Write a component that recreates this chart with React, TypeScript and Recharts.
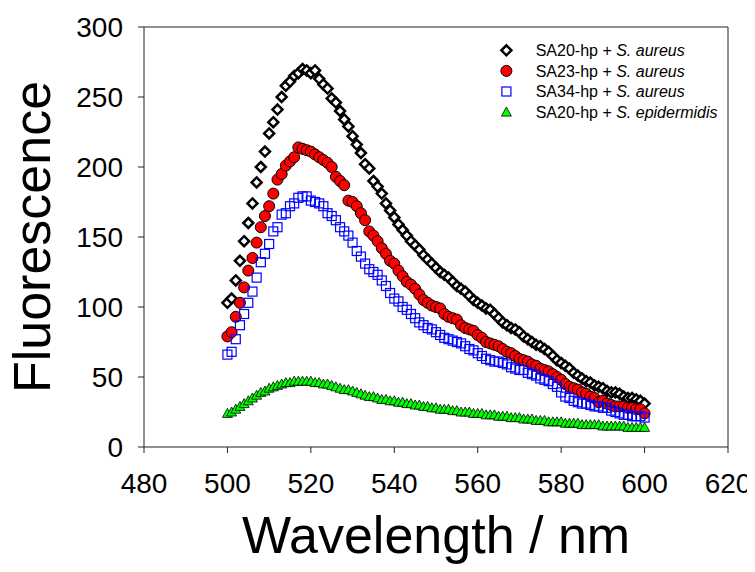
import React from "react";
import {
  ScatterChart,
  Scatter,
  XAxis,
  YAxis,
  ReferenceLine,
} from "recharts";

// wavelength grid, 1 nm steps
const wavelengths = Array.from({ length: 101 }, (_, i) => 500 + i);

const sa20Aureus = [
  103, 106, 119, 133, 147, 160, 174, 189, 200, 211,
  224, 232, 241, 250, 258, 261, 265, 267, 270, 269,
  267, 269, 263, 259, 256, 249, 246, 240, 234, 229,
  222, 216, 210, 202, 199, 190, 186, 181, 174, 169,
  164, 159, 155, 151, 147, 144, 141, 137, 134, 131,
  128, 125, 123, 121, 118, 115, 113, 111, 108, 105,
  103, 101, 99, 98, 95, 92, 89, 87, 85, 84,
  82, 79, 77, 75, 73, 72, 70, 68, 65, 62,
  60, 58, 56, 53, 51, 49, 47, 46, 44, 43,
  42, 40, 39, 39, 38, 36, 35, 35, 34, 33,
  31,
];

const sa23Aureus = [
  79, 82, 93, 103, 114, 126, 135, 146, 157, 165,
  172, 181, 191, 195, 201, 204, 207, 214, 213, 212,
  211, 209, 207, 205, 203, 200, 193, 190, 187, 176,
  175, 172, 167, 162, 154, 151, 147, 142, 138, 133,
  131, 126, 122, 118, 116, 113, 109, 105, 103, 101,
  100, 99, 95, 93, 92, 91, 87, 85, 84, 83,
  80, 78, 75, 74, 73, 72, 70, 68, 67, 65,
  63, 62, 61, 59, 58, 56, 55, 54, 52, 50,
  48, 45, 43, 42, 41, 39, 38, 36, 35, 32,
  33, 31, 30, 29, 29, 29, 28, 28, 27, 27,
  24,
];

const sa34Aureus = [
  66, 68, 77, 87, 95, 103, 111, 121, 132, 138,
  145, 154, 157, 166, 167, 172, 174, 178, 179, 179,
  176, 175, 174, 172, 167, 165, 162, 157, 154, 151,
  146, 140, 136, 131, 127, 125, 123, 119, 115, 110,
  106, 104, 100, 98, 95, 92, 89, 87, 85, 84,
  82, 80, 78, 77, 76, 75, 74, 72, 70, 69,
  67, 65, 63, 62, 61, 61, 60, 59, 57, 56,
  55, 55, 53, 52, 51, 49, 48, 47, 45, 43,
  39, 36, 35, 33, 32, 31, 31, 30, 29, 29,
  28, 28, 26, 25, 24, 23, 23, 22, 22, 22,
  21,
];

const sa20Epidermidis = [
  24, 25, 27, 29, 31, 33, 35, 37, 39, 40,
  42, 43, 44, 45, 46, 46, 47, 47, 47, 47,
  47, 46, 46, 45, 45, 44, 43, 42, 41, 41,
  40, 39, 38, 37, 36, 36, 35, 34, 34, 33,
  33, 32, 32, 31, 31, 30, 30, 29, 29, 28,
  28, 27, 27, 27, 26, 26, 25, 25, 25, 24,
  24, 24, 23, 23, 23, 22, 22, 22, 21, 21,
  21, 20, 20, 20, 19, 19, 19, 18, 18, 18,
  18, 17, 17, 17, 17, 16, 16, 16, 16, 16,
  15, 15, 15, 15, 15, 15, 14, 14, 14, 14,
  14,
];

const xTicks = [480, 500, 520, 540, 560, 580, 600, 620];
const yTicks = [0, 50, 100, 150, 200, 250, 300];

const toPoints = (vals: number[]) =>
  wavelengths.map((w, i) => ({ x: w, y: vals[i] }));

const FONT = "'Liberation Sans', Arial, Helvetica, sans-serif";

const Diamond = ({ cx, cy }: any) => (
  <polygon
    points={`${cx},${cy - 5} ${cx + 5},${cy} ${cx},${cy + 5} ${cx - 5},${cy}`}
    fill="#fff"
    stroke="#000"
    strokeWidth={2.5}
  />
);

const Circle = ({ cx, cy }: any) => (
  <circle cx={cx} cy={cy} r={5.5} fill="#ff0000" stroke="#000" strokeWidth={1} />
);

const Square = ({ cx, cy }: any) => (
  <rect x={cx - 4.5} y={cy - 4.5} width={9} height={9} fill="none" stroke="#0000ff" strokeWidth={1.2} />
);

const Triangle = ({ cx, cy }: any) => (
  <polygon
    points={`${cx},${cy - 5} ${cx + 5},${cy + 4} ${cx - 5},${cy + 4}`}
    fill="#00ff00"
    stroke="#000"
    strokeWidth={0.8}
  />
);

const legendRows = [
  { name: "SA20-hp + ", species: "S. aureus", Shape: Diamond },
  { name: "SA23-hp + ", species: "S. aureus", Shape: Circle },
  { name: "SA34-hp + ", species: "S. aureus", Shape: Square },
  { name: "SA20-hp + ", species: "S. epidermidis", Shape: Triangle },
];

export default function App() {
  const W = 747;
  const H = 556;
  // overlay is shifted 8px left so it starts at the page edge
  const o = 8;
  return (
    <div style={{ position: "relative", width: W, height: H }}>
      <ScatterChart
        width={W}
        height={H}
        margin={{ top: 19, right: 27, left: 0, bottom: 0 }}
      >
        <XAxis
          type="number"
          dataKey="x"
          domain={[480, 620]}
          ticks={xTicks}
          height={117}
          tickSize={6}
          tickMargin={20}
          stroke="#222"
          tick={{ fill: "#000", fontSize: 28, fontFamily: FONT }}
        />
        <YAxis
          type="number"
          dataKey="y"
          domain={[0, 300]}
          ticks={yTicks}
          width={136}
          tickSize={6}
          tickMargin={15}
          stroke="#222"
          tick={{ fill: "#000", fontSize: 28, fontFamily: FONT }}
        />
        <ReferenceLine y={300} stroke="#222" />
        <ReferenceLine x={620} stroke="#222" />
        <Scatter data={toPoints(sa20Aureus)} shape={Diamond} isAnimationActive={false} />
        <Scatter data={toPoints(sa23Aureus)} shape={Circle} isAnimationActive={false} />
        <Scatter data={toPoints(sa34Aureus)} shape={Square} isAnimationActive={false} />
        <Scatter data={toPoints(sa20Epidermidis)} shape={Triangle} isAnimationActive={false} />
      </ScatterChart>
      <svg
        width={W}
        height={H}
        style={{ position: "absolute", left: -o, top: 0, pointerEvents: "none" }}
      >
        <text
          x={42 + o}
          y={229}
          transform={`rotate(-90 ${42 + o} 229)`}
          textAnchor="middle"
          fontSize={52}
          fontFamily={FONT}
          fill="#000"
        >
          Fluorescence
        </text>
        <text x={428 + o} y={545} textAnchor="middle" fontSize={52} fontFamily={FONT} fill="#000">
          Wavelength / nm
        </text>
        {legendRows.map((r, i) => {
          const cy = 42.3 + i * 20.6;
          const S = r.Shape;
          return (
            <g key={i}>
              <S cx={498.4 + o} cy={cy} />
              <text x={527.7 + o} y={cy + 5.6} fontSize={16} fontFamily={FONT} fill="#000">
                {r.name}
                <tspan fontStyle="italic">{r.species}</tspan>
              </text>
            </g>
          );
        })}
      </svg>
    </div>
  );
}
